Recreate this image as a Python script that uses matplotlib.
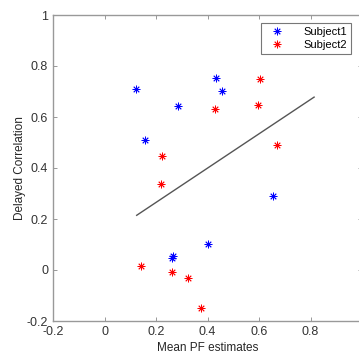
import matplotlib
matplotlib.use("Agg")
import matplotlib.pyplot as plt
import numpy as np

plt.rcParams['font.family'] = ['Liberation Sans', 'DejaVu Sans']

s1_x = [0.122, 0.157, 0.285, 0.432, 0.458, 0.653, 0.403, 0.263, 0.267]
s1_y = [0.710, 0.510, 0.643, 0.752, 0.703, 0.291, 0.101, 0.048, 0.053]
s2_x = [0.222, 0.218, 0.142, 0.263, 0.325, 0.375, 0.429, 0.603, 0.595, 0.671]
s2_y = [0.446, 0.336, 0.0145, -0.008, -0.033, -0.150, 0.633, 0.749, 0.646, 0.489]
fit_x = [0.125, 0.814]
fit_y = [0.2145, 0.678]

xticks = [-0.2, 0, 0.2, 0.4, 0.6, 0.8, 1]
yticks = [-0.2, 0, 0.2, 0.4, 0.6, 0.8, 1]

W, H = 359, 358
fig = plt.figure(figsize=(W/100, H/100), dpi=100)
ax = fig.add_axes([53/W, (H-321)/H, 257.5*1.2/W, 306/H])

ast = (8, 2, 0)
ax.plot(fit_x, fit_y, color='#555555', lw=1.0)
ax.plot(s1_x, s1_y, marker=ast, color='blue', ms=5.5, mew=0.6, ls='none', label='Subject1')
ax.plot(s2_x, s2_y, marker=ast, color='red', ms=5.5, mew=0.6, ls='none', label='Subject2')

ax.set_xlim(-0.2, 1)
ax.set_ylim(-0.2, 1)
ax.set_xticks(xticks)
ax.set_yticks(yticks)
ax.set_xticklabels(['-0.2', '0', '0.2', '0.4', '0.6', '0.8', '1'])
ax.set_yticklabels(['-0.2', '0', '0.2', '0.4', '0.6', '0.8', '1'])
ax.tick_params(direction='in', top=True, right=True, length=3, width=0.6,
               colors='#333333', labelsize=9, color='#888888')
for sp in ax.spines.values():
    sp.set_color('#999999')
    sp.set_linewidth(1.0)

ax.set_xlabel('Mean PF estimates', fontsize=8.5, color='#262626', labelpad=3)
ax.set_ylabel('Delayed Correlation', fontsize=8.5, color='#262626', labelpad=0.5)

leg = ax.legend(loc='upper right', bbox_to_anchor=(351/W, (H-23)/H),
                bbox_transform=fig.transFigure, fontsize=8, frameon=True,
                fancybox=False, edgecolor='#555555', borderpad=0.35,
                handlelength=2.2, handletextpad=1.3, labelspacing=0.25,
                borderaxespad=0)
leg.get_frame().set_linewidth(0.8)

fig.savefig('out.png', dpi=100)
